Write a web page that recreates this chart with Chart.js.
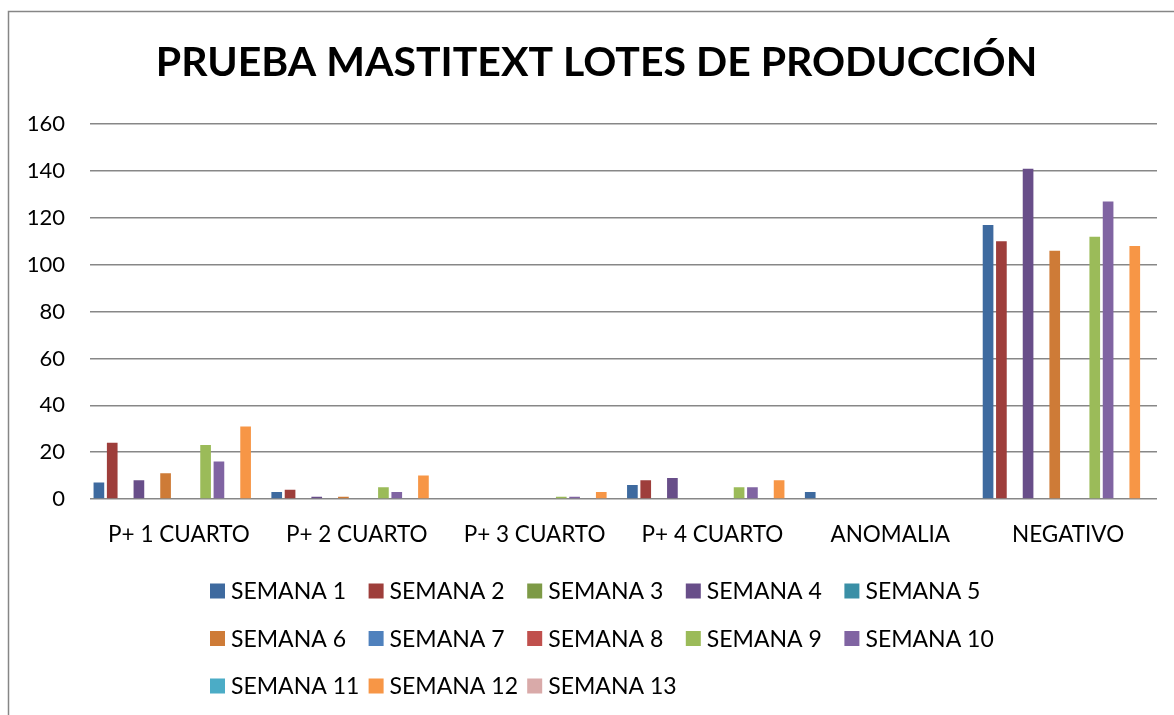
<!DOCTYPE html>
<html>
<head>
<meta charset="utf-8">
<script src="https://cdn.jsdelivr.net/npm/chart.js@4/dist/chart.umd.min.js"></script>
<style>
html,body{margin:0;padding:0;background:#fff;}
#wrap{position:relative;width:1174px;height:715px;}
canvas{display:block;}
</style>
</head>
<body>
<div id="wrap"><canvas id="c" width="1174" height="715"></canvas></div>
<script>
const categories = ['P+ 1 CUARTO','P+ 2 CUARTO','P+ 3 CUARTO','P+ 4 CUARTO','ANOMALIA','NEGATIVO'];
const seriesNames = ['SEMANA 1','SEMANA 2','SEMANA 3','SEMANA 4','SEMANA 5','SEMANA 6','SEMANA 7','SEMANA 8','SEMANA 9','SEMANA 10','SEMANA 11','SEMANA 12','SEMANA 13'];
const semana1  = [7, 3, 0, 6, 3, 117];
const semana2  = [24, 4, 0, 8, 0, 110];
const semana3  = [0, 0, 0, 0, 0, 0];
const semana4  = [8, 1, 0, 9, 0, 141];
const semana5  = [0, 0, 0, 0, 0, 0];
const semana6  = [11, 1, 0, 0, 0, 106];
const semana7  = [0, 0, 0, 0, 0, 0];
const semana8  = [0, 0, 0, 0, 0, 0];
const semana9  = [23, 5, 1, 5, 0, 112];
const semana10 = [16, 3, 1, 5, 0, 127];
const semana11 = [0, 0, 0, 0, 0, 0];
const semana12 = [31, 10, 3, 8, 0, 108];
const semana13 = [0, 0, 0, 0, 0, 0];
const yTicks = [0, 20, 40, 60, 80, 100, 120, 140, 160];
const titleText = 'PRUEBA MASTITEXT LOTES DE PRODUCCIÓN';

const seriesValues = [semana1,semana2,semana3,semana4,semana5,semana6,semana7,semana8,semana9,semana10,semana11,semana12,semana13];
const colors = ['#3E6A9F','#9E3E3B','#7D9A46','#684E89','#3A8FA6','#CE7B37','#4F81BD','#C0504D','#9BBB59','#8064A2','#4BACC6','#F79646','#D9AAA9'];

const FONT = 'Lato';

const frame = {
  id: 'frame',
  beforeDraw(chart) {
    const ctx = chart.ctx;
    ctx.save();
    ctx.fillStyle = '#fff';
    ctx.fillRect(0, 0, chart.width, chart.height);
    ctx.strokeStyle = '#868686';
    ctx.lineWidth = 1.5;
    ctx.beginPath();
    ctx.moveTo(8.5, chart.height + 2);
    ctx.lineTo(8.5, 11.5);
    ctx.lineTo(chart.width + 2, 11.5);
    ctx.stroke();
    ctx.restore();
  }
};

const shiftTitle = {
  id: 'shiftTitle',
  afterLayout(chart) {
    const t = chart.titleBlock;
    if (t) { t.left += 13; t.right += 13; }
  }
};

const gridLegend = {
  id: 'gridLegend',
  afterDraw(chart) {
    const ctx = chart.ctx;
    ctx.save();
    ctx.font = '23px ' + FONT;
    ctx.textBaseline = 'middle';
    ctx.textAlign = 'left';
    const x0 = 210, dx = 158.6, rows = [591, 638.5, 686];
    chart.data.datasets.forEach((ds, i) => {
      const col = i % 5, row = Math.floor(i / 5);
      const x = x0 + col * dx, y = rows[row];
      ctx.fillStyle = ds.backgroundColor;
      ctx.fillRect(x, y - 7.5, 15, 15);
      ctx.fillStyle = '#000';
      ctx.fillText(ds.label, x + 21, y + 1);
    });
    ctx.restore();
  }
};

function build() {
  new Chart(document.getElementById('c'), {
    type: 'bar',
    data: {
      labels: categories,
      datasets: seriesNames.map((n, i) => ({
        label: n,
        data: seriesValues[i],
        backgroundColor: colors[i],
        borderWidth: 0,
        categoryPercentage: 0.975,
        barPercentage: 0.8
      }))
    },
    options: {
      responsive: false,
      animation: false,
      layout: { padding: { left: 10, right: 17, top: 0, bottom: 156 } },
      plugins: {
        legend: { display: false },
        tooltip: { enabled: false },
        title: {
          display: true,
          text: titleText,
          color: '#000',
          font: { family: FONT, size: 41, weight: 'bold', lineHeight: 1.2 },
          padding: { top: 38, bottom: 37 }
        }
      },
      scales: {
        x: {
          grid: { display: false, drawTicks: false },
          border: { display: false },
          ticks: { color: '#000', font: { family: FONT, size: 22.5 }, padding: 22, maxRotation: 0, autoSkip: false },
          afterFit(s) { s.height = 60; }
        },
        y: {
          min: 0, max: 160,
          grid: { color: '#878787', lineWidth: 1.5, drawTicks: false },
          border: { display: false },
          afterBuildTicks(s) { s.ticks = yTicks.map(v => ({ value: v })); },
          ticks: { color: '#000', font: { family: FONT, size: 22 }, padding: 25 },
          afterFit(s) { s.width = 80; }
        }
      }
    },
    plugins: [frame, shiftTitle, gridLegend]
  });
}

if (document.fonts && document.fonts.load) {
  Promise.all([
    document.fonts.load('20px ' + FONT),
    document.fonts.load('bold 41px ' + FONT)
  ]).then(build, build);
} else {
  build();
}
</script>
</body>
</html>
